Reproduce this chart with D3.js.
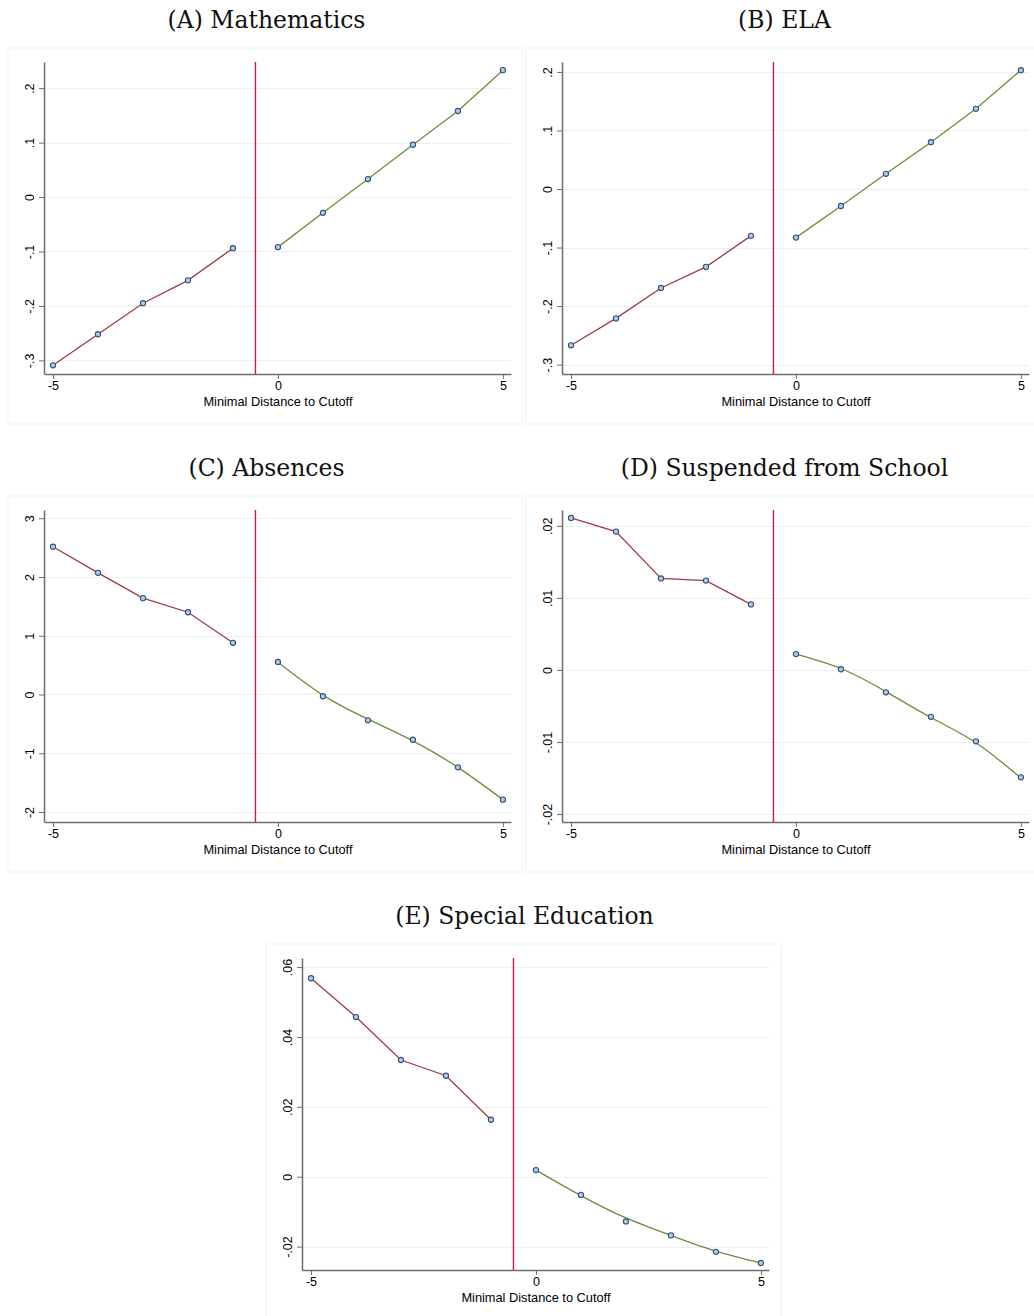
<!DOCTYPE html>
<meta charset="utf-8">
<style>
  body { margin: 0; background: #fff; }
  .title { font-family: "DejaVu Serif", serif; font-size: 23.5px; font-weight: 300; fill: #111; text-anchor: middle; }
  .axis text { font-family: "Liberation Sans", Arial, sans-serif; font-size: 12.5px; fill: #000; }
  .axis path, .axis line { stroke: #6e6e6e; }
  .xlabel { font-family: "Liberation Sans", Arial, sans-serif; font-size: 12.8px; text-anchor: middle; }
  .grid line { stroke: #e8f0f2; stroke-width: 1; }
</style>
<body>
<script src="https://d3js.org/d3.v7.min.js"></script>
<script>

// bins of minimal distance to cutoff
var leftX = [-5, -4, -3, -2, -1];
var rightX = [0, 1, 2, 3, 4, 5];

var titles = ["(A) Mathematics", "(B) ELA", "(C) Absences", "(D) Suspended from School", "(E) Special Education"];

// binned means (markers)
var leftMath = [-0.309, -0.252, -0.195, -0.153, -0.094];
var rightMath = [-0.092, -0.029, 0.033, 0.096, 0.158, 0.233];
var leftEla = [-0.267, -0.221, -0.169, -0.133, -0.080];
var rightEla = [-0.083, -0.029, 0.026, 0.080, 0.137, 0.203];
var leftAbs = [2.515, 2.07, 1.64, 1.40, 0.88];
var rightAbs = [0.554, -0.03, -0.44, -0.77, -1.24, -1.79];
var leftSusp = [0.0211, 0.0192, 0.0127, 0.0124, 0.0091];
var rightSusp = [0.0022, 0.0001, -0.0031, -0.0065, -0.0099, -0.0149];
var leftSped = [0.0568, 0.0457, 0.0334, 0.0289, 0.0163];
var rightSped = [0.0019, -0.0052, -0.0128, -0.0168, -0.0215, -0.0247];

// fitted lines on the right of the cutoff
var fitMath = rightMath;
var fitEla = rightEla;
var fitAbs = [0.55, -0.01, -0.42, -0.79, -1.24, -1.79];
var fitSusp = [0.0022, 0.0002, -0.0030, -0.0066, -0.0101, -0.0150];
var fitSped = [0.0019, -0.0054, -0.0118, -0.0168, -0.0213, -0.0247];

// y ticks and labels
var ticksMath = [-0.3, -0.2, -0.1, 0, 0.1, 0.2];
var labelsMath = ["-.3", "-.2", "-.1", "0", ".1", ".2"];
var ticksAbs = [-2, -1, 0, 1, 2, 3];
var labelsAbs = ["-2", "-1", "0", "1", "2", "3"];
var ticksSusp = [-0.02, -0.01, 0, 0.01, 0.02];
var labelsSusp = ["-.02", "-.01", "0", ".01", ".02"];
var ticksSped = [-0.02, 0, 0.02, 0.04, 0.06];
var labelsSped = ["-.02", "0", ".02", ".04", ".06"];

var xTicks = [-5, 0, 5];
var xLabels = ["-5", "0", "5"];

var panels = [
  {box: [8, 48], left: leftMath, right: rightMath, fit: fitMath, smooth: false, dom: [-0.325, 0.248], ticks: ticksMath, labels: labelsMath},
  {box: [526, 48], left: leftEla, right: rightEla, fit: fitEla, smooth: false, dom: [-0.316, 0.217], ticks: ticksMath, labels: labelsMath},
  {box: [8, 496], left: leftAbs, right: rightAbs, fit: fitAbs, smooth: true, dom: [-2.17, 3.14], ticks: ticksAbs, labels: labelsAbs},
  {box: [526, 496], left: leftSusp, right: rightSusp, fit: fitSusp, smooth: true, dom: [-0.0211, 0.0222], ticks: ticksSusp, labels: labelsSusp},
  {box: [266, 944], left: leftSped, right: rightSped, fit: fitSped, smooth: true, dom: [-0.0267, 0.0626], ticks: ticksSped, labels: labelsSped}
];

var dim = {boxW: 515, boxH: 376, left: 36, top: 14, plotW: 467, plotH: 312};

var svg = d3.select("body").append("svg")
    .attr("width", 1034)
    .attr("height", 1316);

panels.forEach(function(p, i) {
  var g = svg.append("g").attr("transform", "translate(" + p.box[0] + "," + p.box[1] + ")");

  svg.append("text")
     .attr("class", "title")
     .attr("x", p.box[0] + dim.boxW / 2 + 1)
     .attr("y", p.box[1] - 20)
     .text(titles[i]);

  g.append("rect")
   .attr("width", dim.boxW).attr("height", dim.boxH)
   .attr("fill", "#fff").attr("stroke", "#edf3f4");

  var plot = g.append("g").attr("transform", "translate(" + dim.left + "," + dim.top + ")");

  var x = d3.scaleLinear().domain([-5.2, 5.18]).range([0, dim.plotW]);
  var y = d3.scaleLinear().domain(p.dom).range([dim.plotH, 0]);

  plot.append("g").attr("class", "grid")
      .selectAll("line").data(p.ticks).enter().append("line")
      .attr("x1", 0).attr("x2", dim.plotW)
      .attr("y1", function(d) { return Math.round(y(d)) + 0.5; })
      .attr("y2", function(d) { return Math.round(y(d)) + 0.5; });

  var yAxis = d3.axisLeft(y).tickValues(p.ticks).tickSize(5).tickSizeOuter(0)
      .tickFormat(function(d, k) { return p.labels[k]; });
  var ya = plot.append("g").attr("class", "axis").call(yAxis);
  ya.select(".domain").attr("stroke-width", 1.5);
  ya.selectAll("text")
    .attr("transform", "rotate(-90)")
    .attr("x", 0).attr("dy", 0)
    .attr("y", -10)
    .style("text-anchor", "middle");

  var xAxis = d3.axisBottom(x).tickValues(xTicks).tickSize(5).tickSizeOuter(0)
      .tickFormat(function(d, k) { return xLabels[k]; });
  var xa = plot.append("g").attr("class", "axis")
      .attr("transform", "translate(0," + dim.plotH + ")").call(xAxis);
  xa.select(".domain").attr("stroke-width", 1.5);
  xa.selectAll("text").attr("y", 7);

  plot.append("text").attr("class", "xlabel")
      .attr("x", x(0)).attr("y", dim.plotH + 32)
      .text("Minimal Distance to Cutoff");

  plot.append("line")
      .attr("x1", x(-0.5)).attr("x2", x(-0.5))
      .attr("y1", 0).attr("y2", dim.plotH)
      .attr("stroke", "#d41845").attr("stroke-width", 1.4);

  var lineL = d3.line().x(function(d, k) { return x(leftX[k]); }).y(function(d) { return y(d); });
  var lineR = d3.line().curve(p.smooth ? d3.curveNatural : d3.curveLinear)
      .x(function(d, k) { return x(rightX[k]); }).y(function(d) { return y(d); });

  plot.append("path").datum(p.left).attr("d", lineL)
      .attr("fill", "none").attr("stroke", "#a03a42").attr("stroke-width", 1.3);
  plot.append("path").datum(p.fit).attr("d", lineR)
      .attr("fill", "none").attr("stroke", "#6e8c3a").attr("stroke-width", 1.3);

  var pts = p.left.map(function(v, k) { return [leftX[k], v]; })
      .concat(p.right.map(function(v, k) { return [rightX[k], v]; }));
  plot.selectAll("circle.pt").data(pts).enter().append("circle")
      .attr("class", "pt")
      .attr("cx", function(d) { return x(d[0]); })
      .attr("cy", function(d) { return y(d[1]); })
      .attr("r", 2.6)
      .attr("fill", "#b4cce2")
      .attr("stroke", "#2e527e")
      .attr("stroke-width", 1.1);
});

</script>
</body>
